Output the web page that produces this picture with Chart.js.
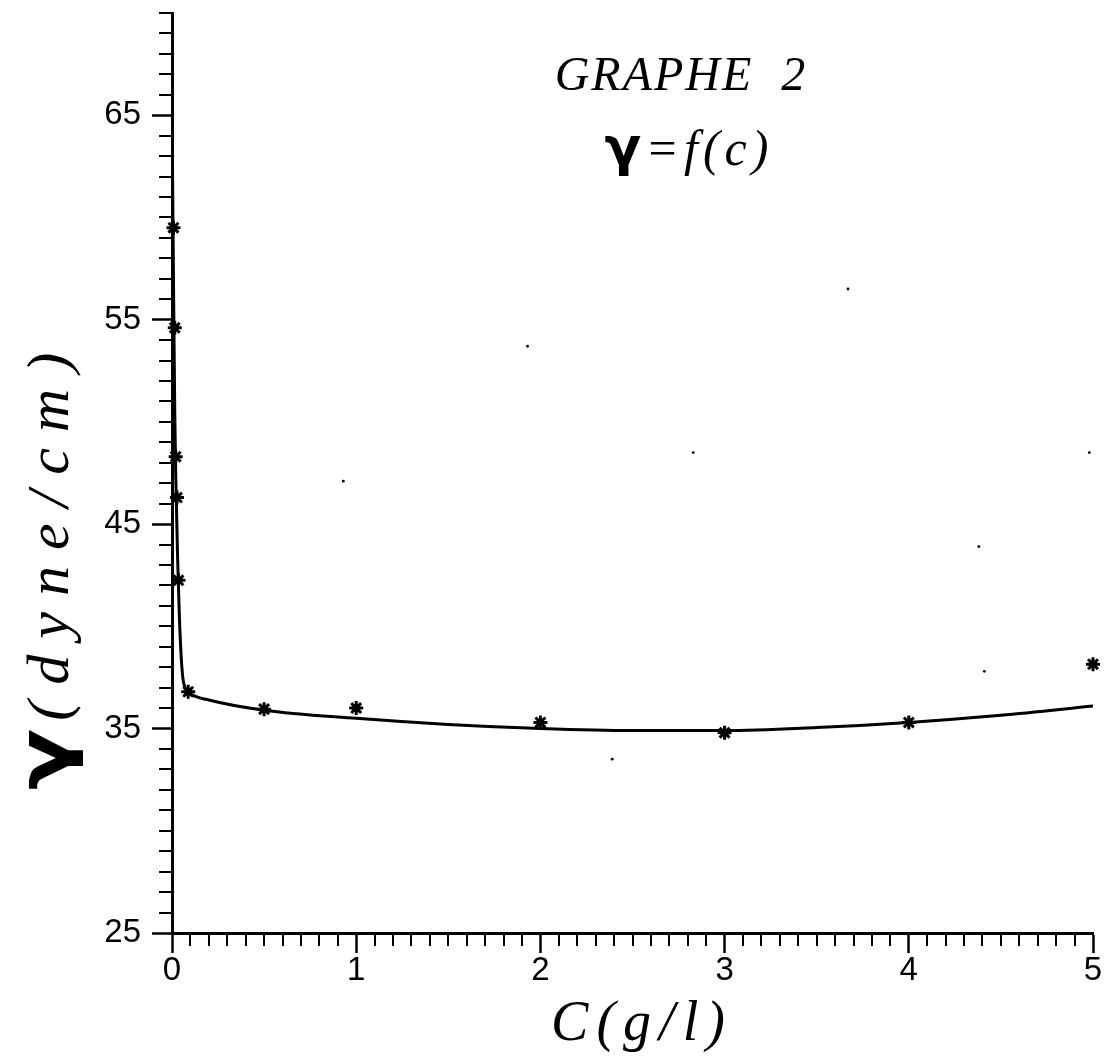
<!DOCTYPE html>
<html>
<head>
<meta charset="utf-8">
<script src="https://cdn.jsdelivr.net/npm/chart.js@4/dist/chart.umd.min.js"></script>
<style>
  html, body { margin: 0; padding: 0; background: #fff; }
  #c { display: block; }
</style>
</head>
<body>
<canvas id="c" width="1110" height="1057"></canvas>
<script>
// measured points (stars)
const concentration = [0.008, 0.015, 0.02, 0.027, 0.035, 0.088, 0.5, 1, 2, 3, 4, 5];
const tension = [59.5, 54.6, 48.3, 46.3, 42.25, 36.8, 35.95, 36.0, 35.3, 34.8, 35.3, 38.15];

// fitted curve
const fitC = [0, 0.005, 0.01, 0.015, 0.02, 0.025, 0.03, 0.035, 0.04, 0.05, 0.06, 0.08, 0.1, 0.2, 0.5, 1, 1.5, 2, 2.5, 3, 3.5, 4, 4.5, 5];
const fitTension = [65.5, 60, 55, 50.5, 47.5, 45.5, 43.5, 42, 40.5, 38.5, 37.4, 36.9, 36.7, 36.4, 35.9, 35.5, 35.2, 35.0, 34.9, 34.9, 35.05, 35.3, 35.65, 36.1];

// stray dots on the scan
const speckC = [2.39, 4.41, 4.98, 3.67, 1.93, 2.83, 0.93, 4.38];
const speckV = [33.5, 37.8, 48.5, 56.5, 53.7, 48.5, 47.1, 43.9];

const xLabels = [0, 1, 2, 3, 4, 5];
const yLabels = [25, 35, 45, 55, 65];
const xMinorStep = 0.1;
const yMinorStep = 1;

const toPts = (xs, ys) => xs.map((v, i) => ({ x: v, y: ys[i] }));
const isMajorX = v => xLabels.some(l => Math.abs(l - v) < 1e-6);
const isMajorY = v => yLabels.some(l => Math.abs(l - v) < 1e-6);

// short minor ticks, placed through the scales
const minorTicks = {
    id: 'minorTicks',
    afterDraw(chart) {
        const ctx = chart.ctx;
        const x = chart.scales.x, y = chart.scales.y;
        ctx.save();
        ctx.strokeStyle = '#000';
        ctx.lineWidth = 2;
        const nx = Math.round((x.max - x.min) / xMinorStep);
        for (let i = 0; i <= nx; i++) {
            const v = x.min + i * xMinorStep;
            if (isMajorX(v)) continue;
            const px = Math.round(x.getPixelForValue(v));
            ctx.beginPath();
            ctx.moveTo(px, x.top);
            ctx.lineTo(px, x.top + 13);
            ctx.stroke();
        }
        const ny = Math.round((y.max - y.min) / yMinorStep);
        for (let i = 0; i <= ny; i++) {
            const v = y.min + i * yMinorStep;
            if (isMajorY(v)) continue;
            const py = Math.round(y.getPixelForValue(v));
            ctx.beginPath();
            ctx.moveTo(y.right, py);
            ctx.lineTo(y.right - 13, py);
            ctx.stroke();
        }
        ctx.restore();
    }
};

// titles in the old plotter style
const texts = {
    id: 'texts',
    afterDraw(chart) {
        const ctx = chart.ctx;
        ctx.save();
        ctx.fillStyle = '#000';
        ctx.textBaseline = 'alphabetic';

        ctx.font = 'italic 48px "Liberation Serif"';
        ctx.textAlign = 'center';
        ctx.letterSpacing = '2px';
        ctx.fillText('GRAPHE  2', 681, 90);

        // second title line
        ctx.textAlign = 'left';
        ctx.letterSpacing = '0px';
        ctx.font = 'bold 54px "DejaVu Sans"';
        const gW = ctx.measureText('γ').width;
        ctx.font = 'italic 50px "Liberation Serif"';
        ctx.letterSpacing = '5px';
        const rW = ctx.measureText('=f(c)').width;
        let sx = 689 - (gW + rW + 4) / 2;
        ctx.letterSpacing = '0px';
        ctx.font = 'bold 54px "DejaVu Sans"';
        ctx.fillText('γ', sx, 165);
        ctx.font = 'italic 50px "Liberation Serif"';
        ctx.letterSpacing = '5px';
        ctx.fillText('=f(c)', sx + gW + 4, 165);

        // x axis title
        ctx.font = 'italic 56px "Liberation Serif"';
        ctx.letterSpacing = '8px';
        ctx.textAlign = 'center';
        ctx.fillText('C(g/l)', 642, 1040);

        // y axis title, rotated
        ctx.translate(68, 790);
        ctx.rotate(-Math.PI / 2);
        ctx.textAlign = 'left';
        ctx.letterSpacing = '0px';
        ctx.font = 'bold 72px "DejaVu Sans"';
        ctx.save();
        ctx.scale(1.25, 1);
        ctx.fillText('γ', 0, 0);
        ctx.restore();
        const yg = ctx.measureText('γ').width * 1.25;
        ctx.font = 'italic 60px "Liberation Serif"';
        ctx.letterSpacing = '16px';
        ctx.fillText('(dyne/cm)', yg + 8, 0);
        ctx.restore();
    }
};

const tickFont = { family: '"Liberation Sans", Arial, sans-serif', size: 33 };

new Chart(document.getElementById('c'), {
    type: 'scatter',
    data: {
        datasets: [
            {
                label: 'fit',
                data: toPts(fitC, fitTension),
                showLine: true,
                pointRadius: 0,
                borderColor: '#000',
                borderWidth: 3,
                cubicInterpolationMode: 'monotone'
            },
            {
                label: 'mesures',
                data: toPts(concentration, tension),
                pointStyle: 'star',
                pointRadius: 7,
                borderWidth: 3,
                borderColor: '#000',
                backgroundColor: '#000',
                clip: false
            },
            {
                label: 'specks',
                data: toPts(speckC, speckV),
                pointStyle: 'circle',
                pointRadius: 1.4,
                borderWidth: 0,
                backgroundColor: '#000'
            }
        ]
    },
    options: {
        responsive: false,
        animation: false,
        devicePixelRatio: 1,
        layout: { padding: { left: 0, top: 13, right: 17, bottom: 0 } },
        plugins: {
            legend: { display: false },
            tooltip: { enabled: false }
        },
        scales: {
            x: {
                type: 'linear',
                min: 0,
                max: 5,
                afterFit: s => { s.height = 124; s.paddingLeft = 0; s.paddingRight = 0; },
                border: { display: true, color: '#000', width: 3 },
                grid: { drawOnChartArea: false, drawTicks: true, tickLength: 20, tickWidth: 2.5, tickColor: '#000' },
                ticks: {
                    stepSize: 1,
                    autoSkip: false,
                    maxRotation: 0,
                    padding: -2,
                    color: '#000',
                    font: tickFont
                }
            },
            y: {
                type: 'linear',
                min: 25,
                max: 70,
                afterFit: s => { s.width = 172; s.paddingTop = 0; s.paddingBottom = 0; },
                border: { display: true, color: '#000', width: 3 },
                grid: {
                    drawOnChartArea: false, drawTicks: true, tickLength: 20, tickWidth: 2.5,
                    tickColor: c => isMajorY(c.tick.value) ? '#000' : 'rgba(0,0,0,0)'
                },
                ticks: {
                    stepSize: 5,
                    autoSkip: false,
                    padding: 11,
                    color: '#000',
                    font: tickFont,
                    callback: v => isMajorY(v) ? String(v) : ''
                }
            }
        }
    },
    plugins: [minorTicks, texts]
});
</script>
</body>
</html>
